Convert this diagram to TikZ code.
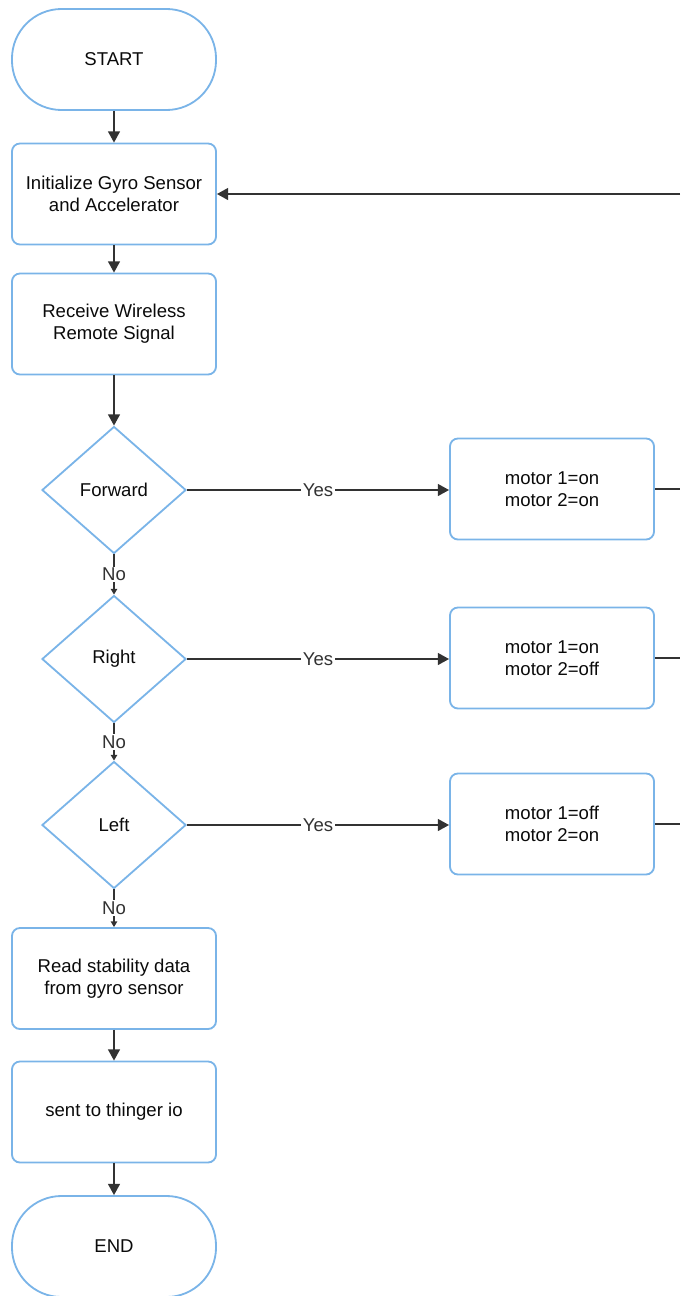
\documentclass[tikz,border=0pt]{standalone}
\usepackage{fontspec}
\setmainfont{Liberation Sans}
\usetikzlibrary{arrows.meta, positioning, shapes.geometric}

\definecolor{flowblue}{RGB}{122,180,232}
\definecolor{flowline}{RGB}{50,50,50}
\definecolor{flowtext}{RGB}{10,10,10}

\begin{document}
\begin{tikzpicture}[x=0.025cm, y=-0.025cm,
  every node/.style={font=\fontsize{13.2}{15.8}\selectfont, align=center, text=flowtext},
  terminal/.style={draw=flowblue, line width=1.3pt, rounded corners=1.24cm, minimum width=5.1cm, minimum height=2.525cm},
  procbox/.style={draw=flowblue, line width=1.3pt, rounded corners=0.2cm, minimum width=5.1cm, minimum height=2.525cm},
  decision/.style={draw=flowblue, line width=1.3pt, diamond, minimum width=3.6cm, minimum height=3.175cm, inner sep=0pt},
  flow/.style={draw=flowline, line width=1.1pt, -{Triangle[length=8pt, width=8.5pt]}},
  shortflow/.style={draw=flowline, line width=1.1pt, -{Triangle[length=4pt, width=4.5pt]}},
  plain/.style={draw=flowline, line width=1.1pt},
  lbl/.style={fill=white, inner sep=1pt, text=flowline}]
\useasboundingbox (0,0) rectangle (680,1296);
% main column
\node[terminal] (start) at (114, 59.5) {START};
\node[procbox] (init) at (114, 194) {Initialize Gyro Sensor\\and Accelerator};
\node[procbox] (recv) at (114, 324) {Receive Wireless\\Remote Signal};
\node[decision] (fwd) at (114, 490) {Forward};
\node[decision] (rgt) at (114, 659) {Right};
\node[decision] (lft) at (114, 825) {Left};
\node[procbox] (read) at (114, 978.5) {Read stability data\\from gyro sensor};
\node[procbox] (sent) at (114, 1112) {sent to thinger io};
\node[terminal] (stop) at (114, 1246.5) {END};
% motor settings
\node[procbox] (mfwd) at (552, 489) {motor 1=on\\motor 2=on};
\node[procbox] (mrgt) at (552, 658) {motor 1=on\\motor 2=off};
\node[procbox] (mlft) at (552, 824) {motor 1=off\\motor 2=on};
% loop back, leaves the visible area on the right
\coordinate (fwdout) at (680, 489);
\coordinate (rgtout) at (680, 658);
\coordinate (lftout) at (680, 824);
\coordinate (back) at (680, 194);

\draw[flow] (start) -- (init);
\draw[flow] (init) -- (recv);
\draw[flow] (recv) -- (fwd);
\draw[shortflow] (fwd) -- node[lbl] {No} (rgt);
\draw[shortflow] (rgt) -- node[lbl] {No} (lft);
\draw[shortflow] (lft) -- node[lbl] {No} (read);
\draw[flow] (read) -- (sent);
\draw[flow] (sent) -- (stop);
\draw[flow] (fwd.east) -- node[lbl] {Yes} (mfwd.west |- fwd.east);
\draw[flow] (rgt.east) -- node[lbl] {Yes} (mrgt.west |- rgt.east);
\draw[flow] (lft.east) -- node[lbl] {Yes} (mlft.west |- lft.east);
\draw[plain] (mfwd) -- (fwdout);
\draw[plain] (mrgt) -- (rgtout);
\draw[plain] (mlft) -- (lftout);
\draw[flow] (back) -- (init);
\end{tikzpicture}
\end{document}
